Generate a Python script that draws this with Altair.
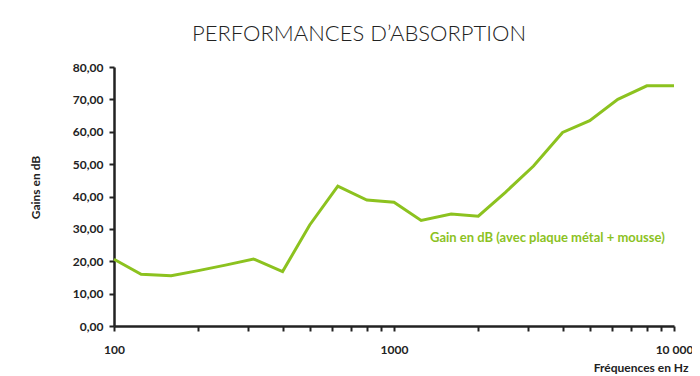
import altair as alt
import pandas as pd

freqs = [100, 125, 160, 200, 250, 315, 400, 500, 630, 800, 1000, 1250, 1600,
         2000, 2500, 3150, 4000, 5000, 6300, 8000, 10000]
gains = [20.6, 16.0, 15.5, 17.1, 18.8, 20.7, 16.8, 31.2, 43.2, 38.9, 38.2, 32.6,
         34.6, 33.9, 41.3, 49.4, 59.8, 63.4, 70.0, 74.2, 74.2]
series_label = "Gain en dB (avec plaque métal + mousse)"
title_text = "PERFORMANCES D\u2019ABSORPTION"
x_ticks = [100, 200, 300, 400, 500, 600, 700, 800, 900,
           1000, 2000, 3000, 4000, 5000, 6000, 7000, 8000, 9000, 10000]
y_ticks = [0, 10, 20, 30, 40, 50, 60, 70, 80]

GREEN = "#8cc21f"
DARK = "#222222"
FONT = "Lato"

df = pd.DataFrame({"freq": freqs, "gain": gains})
lab = pd.DataFrame({"freq": [1345], "gain": [27.3], "text": [series_label]})

x_scale = alt.Scale(type="log", domain=[100, 10000], nice=False)
y_scale = alt.Scale(domain=[0, 80], nice=False)

x_axis = alt.Axis(
    values=x_ticks,
    labelExpr="datum.value == 100 ? '100' : datum.value == 1000 ? '1000' : datum.value == 10000 ? '10 000' : ''",
    title="Fréquences en Hz",
    titleX=574, titleY=41, titleAlign="right", titleBaseline="middle",
    labelPadding=13, tickSize=5, labelFlush=False,
    labelOverlap=False,
)
y_axis = alt.Axis(
    values=y_ticks,
    labelExpr="replace(format(datum.value, '.2f'), '.', ',')",
    labelOverlap=False,
    title="Gains en dB",
    titleX=-79, titleY=120, titleAlign="center", titleBaseline="middle",
    titleAngle=-90,
    labelPadding=6, tickSize=5,
)

line = alt.Chart(df).mark_line(color=GREEN, strokeWidth=3, clip=False).encode(
    x=alt.X("freq:Q", scale=x_scale, axis=x_axis),
    y=alt.Y("gain:Q", scale=y_scale, axis=y_axis),
)

text = alt.Chart(lab).mark_text(
    color=GREEN, fontWeight="bold", fontSize=13, font=FONT, align="left", baseline="middle"
).encode(
    x=alt.X("freq:Q", scale=x_scale, axis=x_axis),
    y=alt.Y("gain:Q", scale=y_scale, axis=y_axis),
    text="text:N",
)

chart = (line + text).properties(
    width=560, height=259,
    autosize=alt.AutoSizeParams(type="none"),
    padding={"left": 106, "top": 59, "right": 18, "bottom": 50},
    title=alt.TitleParams(title_text, fontSize=22, font=FONT, fontWeight=300,
                          color=DARK, anchor="middle", dx=-35, offset=15),
    background="white",
).configure_view(stroke=None).configure_axis(
    grid=False,
    domainColor=DARK, domainWidth=2.5,
    tickColor=DARK, tickWidth=2,
    labelFont=FONT, labelFontWeight="bold", labelFontSize=12, labelColor=DARK,
    titleFont=FONT, titleFontWeight="bold", titleFontSize=12, titleColor=DARK,
)

chart.save("out.html", embed_options={"renderer": "svg", "actions": False})
